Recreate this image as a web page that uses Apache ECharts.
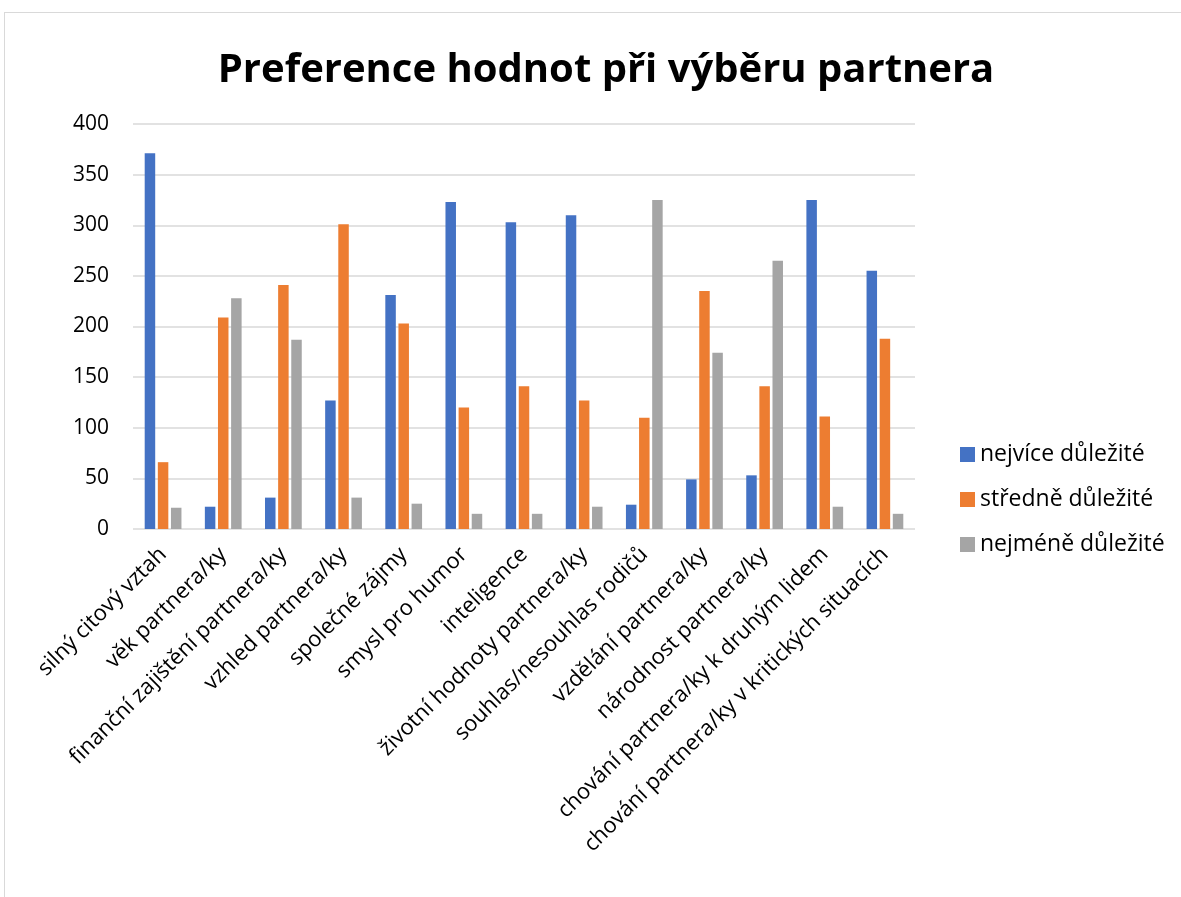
<!DOCTYPE html>
<html>
<head>
<meta charset="utf-8">
<script src="https://cdn.jsdelivr.net/npm/echarts@6/dist/echarts.min.js"></script>
<style>
  body { margin: 0; background: #fff; }
  #frame {
    position: absolute; left: 4px; top: 12px;
    width: 1200px; height: 900px;
    border: 1px solid #d9d9d9; box-sizing: border-box;
  }
  #chart { position: absolute; left: 0; top: 0; width: 1181px; height: 897px; }
</style>
</head>
<body>
<div id="frame"></div>
<div id="chart"></div>
<script>
const categories = [
  "silný citový vztah", "věk partnera/ky", "finanční zajištění partnera/ky",
  "vzhled partnera/ky", "společné zájmy", "smysl pro humor", "inteligence",
  "životní hodnoty partnera/ky", "souhlas/nesouhlas rodičů", "vzdělání partnera/ky",
  "národnost partnera/ky", "chování partnera/ky k druhým lidem",
  "chování partnera/ky v kritických situacích"
];
const nejvice = [371, 22, 31, 127, 231, 323, 303, 310, 24, 49, 53, 325, 255];
const stredne = [66, 209, 241, 301, 203, 120, 141, 127, 110, 235, 141, 111, 188];
const nejmene = [21, 228, 187, 31, 25, 15, 15, 22, 325, 174, 265, 22, 15];
const seriesNames = ["nejvíce důležité", "středně důležité", "nejméně důležité"];
const colors = ["#4472c4", "#ed7d31", "#a5a5a5"];

const font = "'Open Sans', 'Noto Sans', sans-serif";
let myChart = echarts.init(document.getElementById("chart"));
myChart.setOption({
  animation: false,
  title: {
    text: "Preference hodnot při výběru partnera",
    left: 601, top: 46, textAlign: "center",
    textStyle: { fontFamily: font, fontWeight: "bold", fontSize: 40, color: "#000" }
  },
  legend: {
    orient: "vertical",
    left: 955, top: 438,
    itemWidth: 15, itemHeight: 15, itemGap: 22,
    icon: "rect",
    textStyle: { fontFamily: font, fontSize: 23, color: "#000" },
    data: seriesNames
  },
  grid: { left: 133, right: 266, top: 124, bottom: 368 },
  xAxis: {
    type: "category",
    data: categories,
    axisLine: { show: false },
    axisTick: { show: false },
    axisLabel: { interval: 0, rotate: 45, margin: 22, fontFamily: font, fontSize: 22, color: "#000" }
  },
  yAxis: {
    type: "value",
    min: 0, max: 400, interval: 50,
    axisLabel: { fontFamily: font, fontSize: 21, color: "#000", margin: 24 },
    splitLine: { lineStyle: { color: "#d9d9d9", width: 1.5 } }
  },
  series: [
    { name: seriesNames[0], type: "bar", data: nejvice, barWidth: 10.5, barGap: "25%", itemStyle: { color: colors[0] } },
    { name: seriesNames[1], type: "bar", data: stredne, barWidth: 10.5, barGap: "25%", itemStyle: { color: colors[1] } },
    { name: seriesNames[2], type: "bar", data: nejmene, barWidth: 10.5, barGap: "25%", itemStyle: { color: colors[2] } }
  ]
});
</script>
</body>
</html>
